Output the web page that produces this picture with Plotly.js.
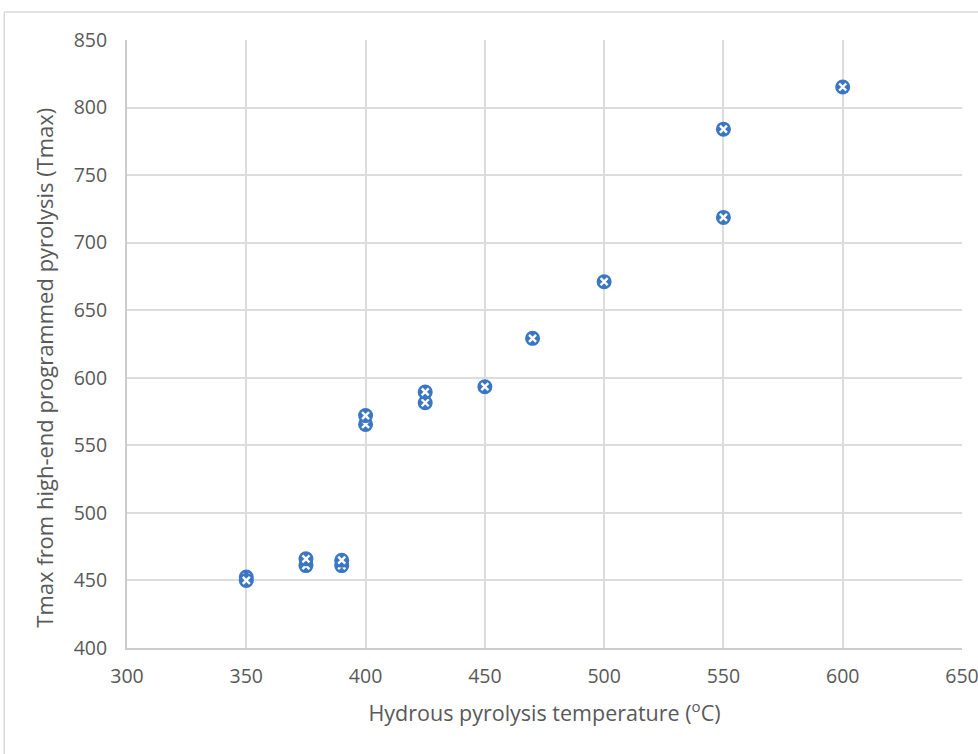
<!DOCTYPE html>
<html>
<head>
<meta charset="utf-8">
<script src="https://cdn.plot.ly/plotly-3.0.1.min.js"></script>
<style>html,body{margin:0;padding:0;background:#fff;}#chart{width:978px;height:754px;}</style>
</head>
<body>
<div id="chart"></div>
<script>
const hydrousTemp = [350, 350, 375, 375, 390, 390, 400, 400, 425, 425, 450, 470, 500, 550, 550, 600];
const tmaxValues  = [452.5, 450, 461, 466, 461, 465, 565.5, 572, 581.5, 589.5, 593.4, 629.2, 671.1, 784, 718.7, 815.2];
const xTicks = [300, 350, 400, 450, 500, 550, 600, 650];
const yTicks = [400, 450, 500, 550, 600, 650, 700, 750, 800, 850];

const grey = '#595959';
const blue = '#3a76c2';
const traces = [];
for (let i = 0; i < hydrousTemp.length; i++) {
  traces.push({
    x: [hydrousTemp[i]], y: [tmaxValues[i]], type: 'scatter', mode: 'markers',
    marker: {symbol: 'circle', size: 15, color: blue, line: {width: 0}},
    hoverinfo: 'x+y'
  });
  traces.push({
    x: [hydrousTemp[i]], y: [tmaxValues[i]], type: 'scatter', mode: 'markers',
    marker: {symbol: 'x-thin', size: 7, color: '#ffffff', line: {color: '#ffffff', width: 2.4}},
    hoverinfo: 'skip'
  });
}
const layout = {
  width: 978, height: 754,
  margin: {l: 127, r: 16, t: 40, b: 106},
  paper_bgcolor: '#ffffff', plot_bgcolor: '#ffffff',
  showlegend: false,
  font: {family: 'Open Sans, sans-serif', color: grey, size: 20},
  xaxis: {
    range: [300, 650], tickvals: xTicks, ticktext: xTicks.map(String),
    showgrid: true, gridcolor: '#dcdcdc', gridwidth: 2,
    showline: true, linecolor: '#cccccc', linewidth: 2, zeroline: false,
    ticks: '', ticklabelstandoff: 10, ticklabeloverflow: 'allow',
    tickfont: {size: 19.5, color: grey},
    title: {text: 'Hydrous pyrolysis temperature (<sup>o</sup>C)', font: {size: 21.5, color: grey}, standoff: 18}
  },
  yaxis: {
    range: [400, 850], tickvals: yTicks, ticktext: yTicks.map(String),
    showgrid: true, gridcolor: '#dcdcdc', gridwidth: 2,
    showline: true, linecolor: '#cccccc', linewidth: 2, zeroline: false,
    ticks: '', ticklabelstandoff: 14, ticklabeloverflow: 'allow',
    tickfont: {size: 19.5, color: grey}
  },
  annotations: [
    {text: 'Tmax from high-end programmed pyrolysis (Tmax)', xref: 'paper', yref: 'paper',
     x: -0.0994, y: 0.461, xanchor: 'center', yanchor: 'middle', textangle: -90, showarrow: false,
     font: {size: 22, color: grey}}
  ],
  shapes: [
    {type: 'line', xref: 'paper', yref: 'paper', x0: -0.147, x1: 1.02, y0: 1.046, y1: 1.046, line: {color: '#d9d9d9', width: 1.5}},
    {type: 'line', xref: 'paper', yref: 'paper', x0: -0.147, x1: -0.147, y0: 1.046, y1: -0.2, line: {color: '#d9d9d9', width: 1.5}}
  ]
};
Plotly.newPlot('chart', traces, layout, {displayModeBar: false, staticPlot: true});
</script>
</body>
</html>
